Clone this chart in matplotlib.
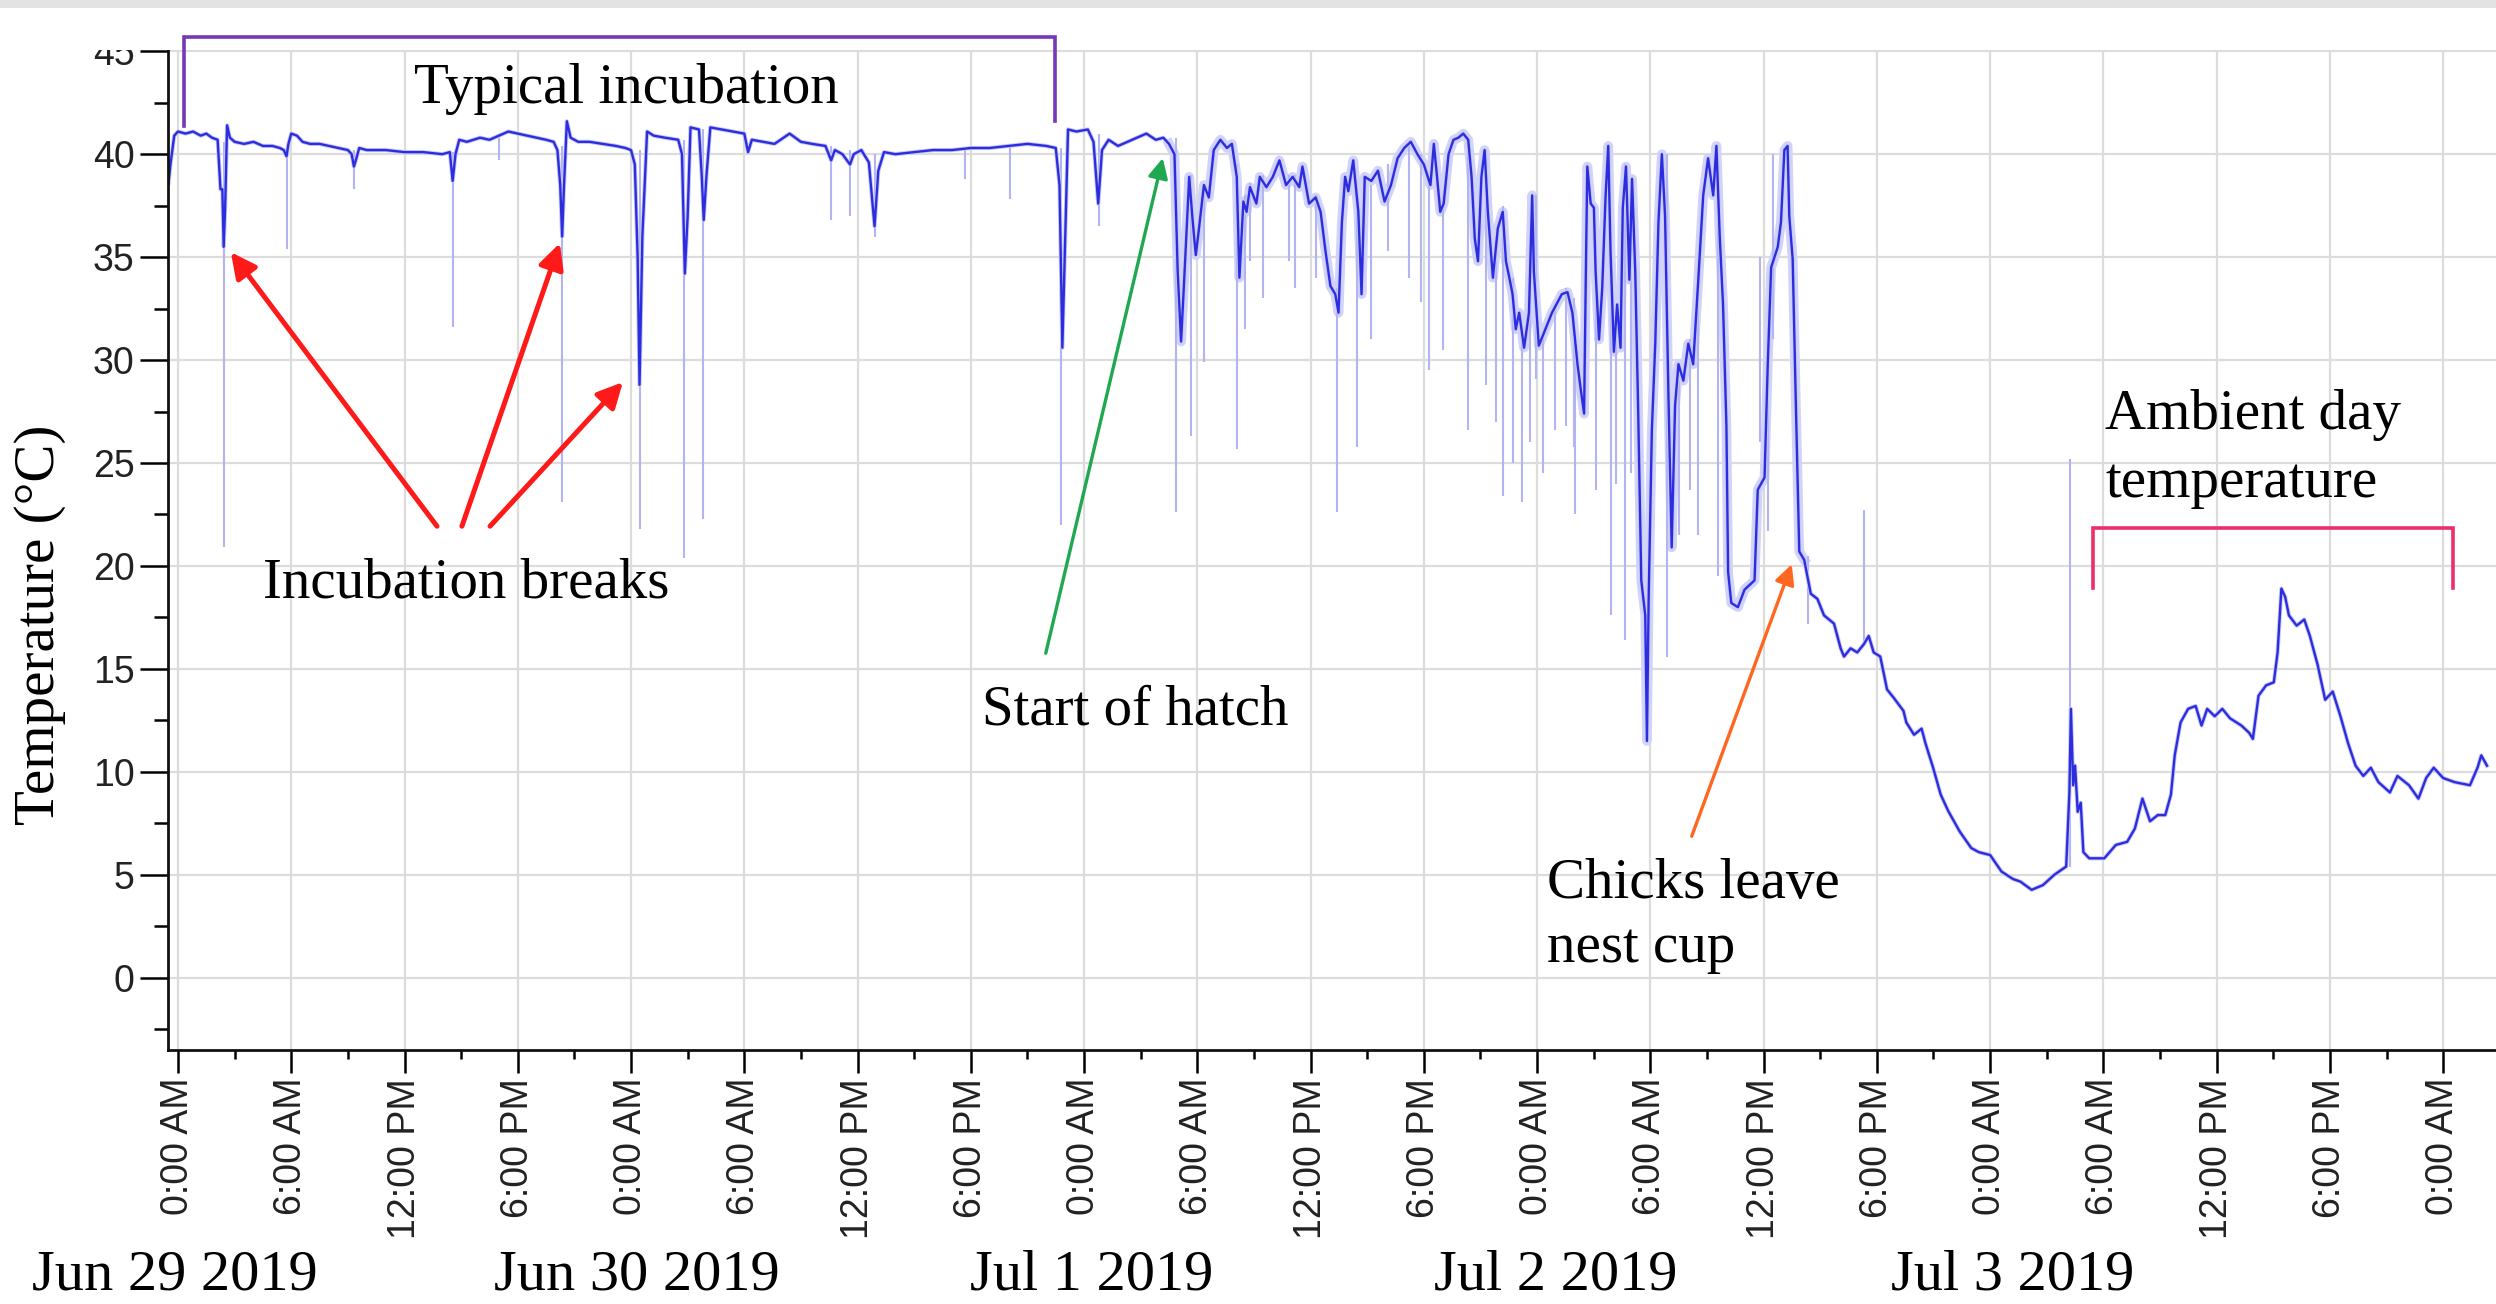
import numpy as np
import matplotlib
matplotlib.use("Agg")
import matplotlib.pyplot as plt
import matplotlib.font_manager as fm
import matplotlib.transforms as mtransforms
from matplotlib.patches import Rectangle
from matplotlib.lines import Line2D
from matplotlib.ticker import MultipleLocator, FixedLocator

# ---------------- data (hours since Jun 29 2019 00:00, temperature in degC) -------------
hours = [
    -0.5, -0.4, -0.2, 0.0, 0.4, 0.8, 1.2, 1.5, 1.8, 2.1, 2.25, 2.35, 2.42, 2.5, 2.6, 2.75,
    3.0, 3.5, 4.0, 4.5, 5.0, 5.4, 5.6, 5.75, 5.85, 6.0, 6.3, 6.6, 7.0, 7.5, 8.0, 8.5, 9.0,
    9.2, 9.32, 9.45, 9.6, 10.0, 11.0, 12.0, 13.0, 14.0, 14.4, 14.55, 14.7, 14.9, 15.3,
    16.0, 16.5, 17.0, 17.5, 18.0, 18.5, 19.0, 19.5, 19.9, 20.1, 20.25, 20.35, 20.45, 20.6,
    20.8, 21.2, 21.8, 22.5, 23.2, 23.7, 24.0, 24.2, 24.35, 24.45, 24.6, 24.85, 25.2, 25.8,
    26.5, 26.7, 26.85, 27.0, 27.15, 27.6, 27.75, 27.85, 28.0, 28.2, 28.8, 29.4, 30.0, 30.2,
    30.4, 31.0, 31.6, 32.4, 33.0, 33.6, 34.3, 34.6, 34.8, 35.2, 35.6, 35.8, 36.2, 36.6,
    36.9, 37.1, 37.4, 38.0, 39.0, 40.0, 41.0, 42.0, 43.0, 44.0, 45.0, 46.0, 46.5, 46.7,
    46.85, 47.0, 47.15, 47.6, 48.2, 48.5, 48.75, 48.95, 49.3, 49.8, 50.3, 50.8, 51.3, 51.8,
    52.2, 52.5,
    52.79, 52.96, 53.14, 53.31, 53.57, 53.74, 53.92, 54.09, 54.35, 54.61, 54.87, 55.22,
    55.57, 55.83, 56.09, 56.23, 56.44, 56.61, 56.79, 57.13, 57.31, 57.66, 58.0, 58.35,
    58.7, 59.05, 59.4, 59.57, 59.92, 60.27, 60.53, 60.79, 61.05, 61.31, 61.48, 61.66,
    61.83, 62.0, 62.26, 62.53, 62.7, 62.87, 63.22, 63.57, 63.92, 64.26, 64.61, 64.96,
    65.31, 65.66, 66.0, 66.35, 66.53, 66.7, 66.87, 67.05, 67.31, 67.57, 67.83, 68.09,
    68.35, 68.53, 68.7, 68.87, 69.05, 69.22, 69.39, 69.66, 69.92, 70.18, 70.35, 70.53,
    70.7, 70.87, 71.05, 71.31, 71.57, 71.74, 71.83, 72.09, 72.44, 72.79, 73.31,
    73.61, 73.87, 74.14, 74.31, 74.49, 74.57, 74.66, 74.84, 75.01, 75.1, 75.28, 75.45,
    75.63, 75.77, 75.89, 76.07, 76.24, 76.42, 76.54, 76.71, 76.89, 77.03, 77.2, 77.35,
    77.52, 77.73, 77.82, 77.91, 78.08, 78.26, 78.43, 78.61, 78.78, 78.96, 79.13, 79.31,
    79.49, 79.75, 80.01, 80.27, 80.54, 80.8, 81.06, 81.33, 81.5, 81.68, 81.85, 82.03,
    82.12, 82.29, 82.64, 82.99, 83.52, 83.69, 84.05, 84.22, 84.4, 84.75, 84.92, 85.1,
    85.27, 85.36, 85.54, 85.71, 85.89, 86.15, 86.5, 86.85, 87.2, 87.73, 88.08, 88.26,
    88.61, 88.96, 89.31, 89.57, 89.83, 90.18, 90.54, 90.89, 91.41,
    91.56, 91.97, 92.37, 92.57, 92.98, 93.38, 93.78, 94.39, 95.0, 95.4, 96.0, 96.6, 97.2,
    97.6, 98.2, 98.8, 99.4, 100.03, 100.2, 100.28, 100.4, 100.5, 100.64, 100.8, 100.94,
    101.25, 102.05, 102.66, 103.26, 103.67, 104.07, 104.47, 104.88, 105.28, 105.58,
    105.78, 106.09, 106.49, 106.89, 107.2, 107.5, 107.9, 108.3, 108.71, 109.31, 109.72,
    109.92, 110.22, 110.62, 111.03, 111.23, 111.43, 111.63, 111.83, 112.24, 112.64,
    112.94, 113.35, 113.75, 114.15, 114.56, 114.96, 115.36, 115.77, 116.17, 116.57,
    117.18, 117.58, 118.19, 118.69, 119.1, 119.5, 120.0, 120.61, 121.42, 121.82, 122.02,
    122.32,
]
temps = [
    38.6, 39.5, 40.9, 41.1, 41.0, 41.1, 40.9, 41.0, 40.8, 40.7, 38.3, 38.3, 35.5, 37.5, 41.4, 40.8,
    40.6, 40.5, 40.6, 40.4, 40.4, 40.3, 40.2, 39.9, 40.5, 41.0, 40.9, 40.6, 40.5, 40.5, 40.4, 40.3, 40.2,
    40.0, 39.4, 39.8, 40.3, 40.2, 40.2, 40.1, 40.1, 40.0, 40.1, 38.7, 40.0, 40.7, 40.6,
    40.8, 40.7, 40.9, 41.1, 41.0, 40.9, 40.8, 40.7, 40.6, 40.2, 38.5, 36.0, 38.5, 41.6,
    40.8, 40.6, 40.6, 40.5, 40.4, 40.3, 40.2, 39.5, 35.0, 28.8, 36.0, 41.1, 40.9, 40.8,
    40.7, 40.0, 34.2, 37.0, 41.3, 41.2, 38.9, 36.8, 39.0, 41.3, 41.2, 41.1, 41.0, 40.1,
    40.7, 40.6, 40.5, 41.0, 40.6, 40.5, 40.4, 39.7, 40.2, 40.0, 39.5, 40.0, 40.2, 39.6,
    36.5, 39.2, 40.1, 40.0, 40.1, 40.2, 40.2, 40.3, 40.3, 40.4, 40.5, 40.4, 40.3, 38.5,
    30.6, 36.0, 41.2, 41.1, 41.2, 40.6, 37.6, 40.2, 40.7, 40.4, 40.6, 40.8, 41.0, 40.7,
    40.8, 40.5,
    40.0, 34.3, 30.9, 34.0, 38.9, 36.9, 35.1, 36.4, 38.5, 37.9, 40.2, 40.7,
    40.3, 40.5, 38.9, 34.0, 37.7, 37.2, 38.4, 37.6, 38.9, 38.4, 38.9, 39.7,
    38.5, 38.9, 38.4, 39.4, 37.6, 37.9, 37.2, 35.3, 33.6, 33.2, 32.3, 36.7,
    38.9, 38.2, 39.7, 37.2, 33.2, 38.9, 38.7, 39.2, 37.7, 38.5, 39.8, 40.3,
    40.6, 40.0, 39.5, 38.5, 40.5, 38.9, 37.2, 37.6, 40.0, 40.7, 40.8, 41.0,
    40.7, 38.9, 35.9, 34.8, 38.9, 40.2, 37.2, 34.0, 36.4, 37.2, 34.8, 34.0,
    33.2, 31.5, 32.3, 30.6, 32.3, 38.0, 34.3, 30.7, 31.5, 32.3, 33.2,
    33.3, 32.3, 29.8, 28.6, 27.4, 33.3, 39.4, 37.6, 37.4, 34.3, 31.0, 33.5,
    38.0, 40.4, 35.3, 30.4, 32.7, 30.6, 37.4, 39.4, 33.9, 38.8, 34.3, 27.8,
    19.3, 17.6, 11.5, 18.4, 26.6, 30.8, 36.7, 40.0, 37.0, 28.2, 20.9, 27.8,
    29.8, 29.0, 30.8, 29.8, 33.9, 38.0, 39.8, 38.0, 40.4, 35.9, 32.7, 26.8,
    19.7, 18.2, 18.0, 18.85, 19.3, 23.7, 24.3, 29.8, 34.5, 35.5, 36.7, 40.2,
    40.4, 37.0, 34.9, 27.8, 20.7, 20.3, 18.65, 18.4, 17.6, 17.2, 16.0, 15.6,
    16.0, 15.8, 16.2, 16.6, 15.8, 15.6, 14.0, 13.6, 12.96,
    12.4, 11.8, 12.1, 11.4, 10.2, 8.9, 8.1, 7.1, 6.3, 6.1, 5.96, 5.16, 4.8,
    4.67, 4.27, 4.5, 5.0, 5.4, 9.0, 13.06, 9.35, 10.3, 8.06, 8.5, 6.1,
    5.8, 5.8, 6.45, 6.6, 7.25, 8.7, 7.6, 7.9, 7.9, 8.9,
    10.8, 12.4, 13.06, 13.2, 12.25, 13.06, 12.7, 13.06, 12.6, 12.25, 11.9,
    11.6, 13.7, 14.2, 14.35, 15.8, 18.9, 18.5, 17.6, 17.1, 17.4,
    16.6, 15.2, 13.5, 13.9, 12.7, 11.4, 10.3, 9.8, 10.2, 9.5,
    9.0, 9.8, 9.35, 8.7, 9.7, 10.2, 9.7, 9.5, 9.35, 10.2, 10.8,
    10.3,
]

# faint raw-reading excursions (time, low end, high end)
spike_hours = [2.45, 5.75, 9.3, 14.57, 17.0, 20.35, 24.45, 26.8, 27.8, 34.6, 35.6, 36.9,
               41.7, 44.1, 46.8, 48.8, 52.87, 53.66, 54.35, 56.09, 56.79, 58.87, 60.27,
               61.4, 62.44, 64.09, 65.83, 68.35, 69.31, 70.18, 70.7, 71.22, 71.92, 72.96,
               73.52, 73.96, 75.1, 75.89, 76.68, 78.87, 80.1, 80.54, 81.59, 84.22, 86.33,
               89.3, 100.25,
               56.5, 57.5, 59.2, 63.2, 65.2, 66.3, 67.0, 69.8, 71.6, 72.3, 74.0, 76.2,
               77.0, 79.5, 83.8, 84.5]
spike_low = [20.9, 35.4, 38.3, 31.6, 39.7, 23.1, 21.8, 20.4, 22.3, 36.8, 37.0, 36.0,
             38.8, 37.8, 22.0, 36.5, 22.6, 26.3, 29.9, 25.7, 34.8, 34.8, 34.0,
             22.6, 25.8, 35.3, 32.8, 26.6, 28.8, 23.4, 25.0, 23.1, 29.1, 26.6,
             26.8, 25.8, 23.7, 17.6, 16.4, 15.6, 23.7, 21.5, 19.5, 21.7, 17.2,
             16.2, 5.4,
             31.5, 33.0, 33.5, 31.0, 34.0, 29.5, 30.5, 27.0, 26.0, 24.5, 22.5, 24.0,
             24.5, 21.5, 26.0, 31.0]
spike_high = [40.6, 40.3, 40.2, 40.1, 40.9, 40.4, 40.2, 40.7, 41.2, 40.4, 40.2, 40.0,
              40.3, 40.4, 40.3, 41.0, 40.8, 39.0, 38.5, 39.5, 38.6, 39.0, 38.0,
              33.5, 37.5, 39.5, 40.0, 40.8, 40.2, 37.5, 34.0, 31.0, 38.0, 32.5,
              33.5, 33.0, 34.5, 36.0, 39.5, 40.0, 31.0, 34.0, 40.0, 30.0, 20.5,
              22.7, 25.2,
              38.0, 39.0, 39.0, 38.5, 40.5, 38.5, 38.0, 36.0, 33.0, 31.0, 30.0, 32.0,
              38.0, 29.0, 35.0, 40.0]

x_tick_hours = list(range(0, 121, 6))
x_tick_labels = ["0:00 AM", "6:00 AM", "12:00 PM", "6:00 PM"] * 5 + ["0:00 AM"]
date_labels = ["Jun 29 2019", "Jun 30 2019", "Jul 1 2019", "Jul 2 2019", "Jul 3 2019"]
date_label_hours = [-0.16, 24.3, 48.4, 73.0, 97.2]

# ---------------- styling ----------------
W, H = 2496, 1304
names = {f.name for f in fm.fontManager.ttflist}
if "Liberation Sans Narrow" in names:
    tick_family, tick_size = "Liberation Sans Narrow", 30
else:
    tick_family, tick_size = "Liberation Sans", 27
serif = ["Liberation Serif", "DejaVu Serif"]
txt_size = 41

fig = plt.figure(figsize=(W / 100, H / 100), dpi=100)
fig.patch.set_facecolor("white")

left_px, right_px, top_px, bottom_px = 168, 2496, 50, 1050
ax = fig.add_axes([left_px / W, 1 - bottom_px / H, (right_px - left_px) / W,
                   (bottom_px - top_px) / H])
ax.set_xlim(-0.53, 122.8)
ax.set_ylim(-3.51, 45.06)

ax.grid(True, which="major", color="#dcdcdc", lw=1.6, zorder=0)
ax.set_axisbelow(True)

h = np.array(hours)
t = np.array(temps)
band = (h >= 52.5) & (h <= 86.2)
ax.plot(h[band], t[band], color="#d2d3f8", lw=7, zorder=1)
ax.vlines(spike_hours, spike_low, spike_high, color="#b3b5f3", lw=1.5, zorder=1.5)
ax.plot(h, t, color="#c6c7f6", lw=3.0, zorder=1.8)
ax.plot(h, t, color="#2d2de0", lw=1.7, zorder=2)

# axes frame
for s in ("top", "right"):
    ax.spines[s].set_visible(False)
for s in ("left", "bottom"):
    ax.spines[s].set_linewidth(2.0)
    ax.spines[s].set_color("#111111")

ax.yaxis.set_major_locator(MultipleLocator(5))
ax.yaxis.set_minor_locator(MultipleLocator(2.5))
ax.xaxis.set_major_locator(FixedLocator(x_tick_hours))
ax.xaxis.set_minor_locator(MultipleLocator(3))
ax.set_xticklabels(x_tick_labels, rotation=90)
ax.tick_params(axis="y", which="major", length=20, width=1.8, pad=4,
               labelsize=tick_size, labelcolor="#222222")
ax.tick_params(axis="y", which="minor", length=10, width=1.8)
ax.tick_params(axis="x", which="major", length=16.5, width=1.8, pad=3.5,
               labelsize=tick_size, labelcolor="#222222")
ax.tick_params(axis="x", which="minor", length=6.5, width=1.8)
for lab in ax.get_xticklabels() + ax.get_yticklabels():
    lab.set_family(tick_family)

# mask above plot area (clips the top tick label) and thin grey band
fig.add_artist(Rectangle((0, 1 - top_px / H), 1, top_px / H, transform=fig.transFigure,
                         facecolor="white", edgecolor="none", zorder=1))
fig.add_artist(Rectangle((0, 1 - 8 / H), 1, 8 / H, transform=fig.transFigure,
                         facecolor="#e3e3e3", edgecolor="none", zorder=1.1))

# brackets
fig.add_artist(Line2D([0.32, 0.32, 46.48, 46.48], [41.37, 45.7, 45.7, 41.6],
                      transform=ax.transData, color="#7438b8", lw=2.6, zorder=3,
                      solid_joinstyle="miter"))
fig.add_artist(Line2D([101.43, 101.43, 120.53, 120.53], [18.92, 21.83, 21.83, 18.92],
                      transform=ax.transData, color="#ec2f6b", lw=2.6, zorder=3,
                      solid_joinstyle="miter"))

# annotation texts
def label(x, y, s):
    ax.text(x, y, s, family=serif, fontsize=txt_size, ha="left", va="baseline",
            color="black", zorder=5)

label(12.5, 42.48, "Typical incubation")
label(4.5, 18.48, "Incubation breaks")
label(42.58, 12.31, "Start of hatch")
label(72.51, 3.85, "Chicks leave")
label(72.51, 0.74, "nest cup")
label(102.1, 26.64, "Ambient day")
label(102.1, 23.34, "temperature")

# arrows
def arrow(tip, tail, color, lw, ms):
    ax.annotate("", xy=tip, xytext=tail,
                arrowprops=dict(arrowstyle="-|>", color=color, lw=lw,
                                mutation_scale=ms, shrinkA=0, shrinkB=0), zorder=4)

arrow((2.80, 35.24), (13.72, 21.93), "#ff1a1a", 3.6, 38)
arrow((20.23, 35.68), (15.04, 21.93), "#ff1a1a", 3.6, 38)
arrow((23.57, 28.93), (16.53, 21.93), "#ff1a1a", 3.6, 38)
arrow((52.17, 39.81), (45.97, 15.76), "#1fa84f", 2.4, 30)
arrow((85.49, 20.08), (80.19, 6.87), "#ff6620", 2.4, 30)

# date labels under the axis
trans = mtransforms.blended_transform_factory(ax.transData, fig.transFigure)
for xh, s in zip(date_label_hours, date_labels):
    ax.text(xh, 1 - 1290 / H, s, transform=trans, family=serif, fontsize=42,
            ha="center", va="baseline", color="black", clip_on=False)

fig.text(40 / W, 1 - 625 / H, "Temperature (\u00b0C)", family=serif, fontsize=txt_size,
         rotation=90, ha="center", va="center")

fig.savefig("out.png", dpi=100, facecolor="white")
